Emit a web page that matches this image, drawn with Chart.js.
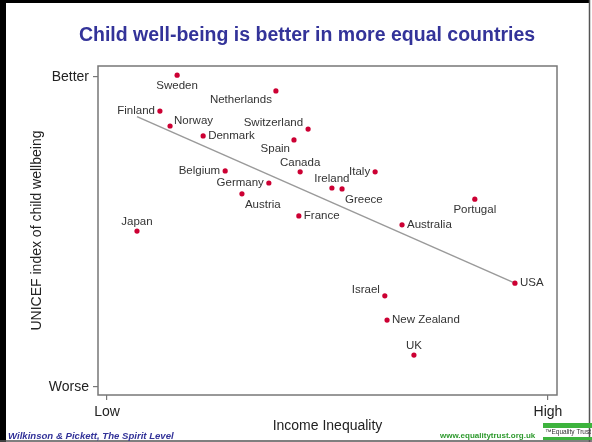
<!DOCTYPE html>
<html>
<head>
<meta charset="utf-8">
<script src="https://cdn.jsdelivr.net/npm/chart.js@4.4.1/dist/chart.umd.min.js"></script>
<style>
  html, body { margin: 0; padding: 0; background: #fff; }
  canvas { display: block; }
</style>
</head>
<body>
<canvas id="wellbeingChart" width="592" height="442"></canvas>
<script>
// values: 0 = Low / Worse, 100 = High / Better
const countries = ['Sweden', 'Netherlands', 'Finland', 'Norway', 'Denmark', 'Switzerland', 'Spain', 'Canada',
    'Belgium', 'Germany', 'Austria', 'Ireland', 'Greece', 'Italy', 'France', 'Portugal', 'Australia',
    'Japan', 'USA', 'Israel', 'New Zealand', 'UK'];
const inequality = [15.9, 38.3, 12.0, 14.3, 21.8, 45.6, 42.4, 43.8, 26.8, 36.7, 30.6, 51.0, 53.3, 60.8, 43.5,
    83.4, 66.9, 6.8, 92.5, 63.0, 63.5, 69.6];
const wellbeing = [100.6, 95.5, 89.0, 84.2, 81.0, 83.2, 79.7, 69.4, 69.7, 65.8, 62.3, 64.2, 63.9, 69.4, 55.2,
    60.6, 52.3, 50.3, 33.5, 29.4, 21.6, 10.3];
const trendX = [6.8, 92.5];
const trendY = [87.2, 33.5];
const xTickValues = [0, 100];
const xTickLabels = ['Low', 'High'];
const yTickValues = [0, 100];
const yTickLabels = ['Worse', 'Better'];

// where each country name sits next to its dot
const labelSide = ['below', 'below-left', 'left', 'above-right', 'right', 'above-left', 'below-left', 'above',
    'left', 'left', 'below-right', 'above', 'below-right', 'left', 'right', 'below', 'right',
    'above', 'right', 'above-left', 'right', 'above'];
const sideOffsets = {
    'right': [5, 0, 'left'],
    'left': [-5, 0, 'right'],
    'above': [0, -9, 'center'],
    'below': [0, 11, 'center'],
    'above-left': [-5, -6, 'right'],
    'below-left': [-4, 9, 'right'],
    'above-right': [4, -5, 'left'],
    'below-right': [3, 11, 'left']
};

const FONT = "'Liberation Sans', Arial, sans-serif";

const pointData = countries.map((c, i) => ({ x: inequality[i], y: wellbeing[i] }));
const trendData = trendX.map((x, i) => ({ x: x, y: trendY[i] }));

const decorations = {
    id: 'decorations',
    beforeDraw(chart) {
        const ctx = chart.ctx;
        ctx.save();
        ctx.fillStyle = '#fff';
        ctx.fillRect(0, 0, chart.width, chart.height);
        ctx.restore();
    },
    afterDatasetsDraw(chart) {
        const ctx = chart.ctx;
        const meta = chart.getDatasetMeta(0);
        ctx.save();
        ctx.font = '11.5px ' + FONT;
        ctx.fillStyle = '#333';
        ctx.textBaseline = 'middle';
        meta.data.forEach((pt, i) => {
            const off = sideOffsets[labelSide[i]];
            ctx.textAlign = off[2];
            ctx.fillText(countries[i], pt.x + off[0], pt.y + off[1]);
        });
        ctx.restore();
    },
    afterDraw(chart) {
        const ctx = chart.ctx;
        const a = chart.chartArea;
        ctx.save();
        // plot frame
        ctx.strokeStyle = '#777';
        ctx.lineWidth = 1.5;
        ctx.strokeRect(a.left, a.top, a.right - a.left, a.bottom - a.top);

        // slide border
        ctx.fillStyle = '#000';
        ctx.fillRect(0, 0, 6, chart.height);
        ctx.fillRect(0, 0, 590, 3);
        ctx.strokeStyle = '#555';
        ctx.lineWidth = 1.5;
        ctx.beginPath();
        ctx.moveTo(589.5, 0); ctx.lineTo(589.5, chart.height);
        ctx.moveTo(0, 441); ctx.lineTo(chart.width, 441);
        ctx.stroke();

        // heading
        ctx.fillStyle = '#333399';
        ctx.font = 'bold 19.5px ' + FONT;
        ctx.textAlign = 'center';
        ctx.textBaseline = 'middle';
        ctx.fillText('Child well-being is better in more equal countries', 307, 36);

        // source line
        ctx.font = 'italic bold 9.6px ' + FONT;
        ctx.textAlign = 'left';
        ctx.fillText('Wilkinson & Pickett, The Spirit Level', 8, 436);

        ctx.fillStyle = '#2e9a2e';
        ctx.font = 'bold 8px ' + FONT;
        ctx.fillText('www.equalitytrust.org.uk', 440, 436);

        // Equality Trust logo
        ctx.fillStyle = '#3db33d';
        ctx.fillRect(543, 423, 49, 5);
        ctx.fillRect(543, 437, 49, 3);
        ctx.fillStyle = '#333';
        ctx.font = '6.5px ' + FONT;
        ctx.fillText('\u2122Equality Trust', 545, 432.5);
        ctx.restore();
    }
};

let wellbeingChart = new Chart(document.getElementById('wellbeingChart').getContext('2d'), {
    type: 'scatter',
    data: {
        datasets: [
            {
                label: 'Countries',
                data: pointData,
                pointRadius: 2.6,
                pointBackgroundColor: '#cc0033',
                pointBorderWidth: 0
            },
            {
                type: 'line',
                label: 'Trend',
                data: trendData,
                borderColor: '#9a9a9a',
                borderWidth: 1.5,
                pointRadius: 0,
                fill: false
            }
        ]
    },
    options: {
        responsive: false,
        animation: false,
        devicePixelRatio: 1,
        layout: {
            padding: { top: 66, right: 35, bottom: 0, left: 0 }
        },
        plugins: {
            legend: { display: false },
            tooltip: { enabled: false }
        },
        scales: {
            x: {
                type: 'linear',
                min: -2.04,
                max: 102.04,
                afterFit: (scale) => { scale.height = 47; },
                afterBuildTicks: (scale) => { scale.ticks = xTickValues.map(v => ({ value: v })); },
                grid: { drawOnChartArea: false, tickLength: 5, color: '#777', lineWidth: 1.2 },
                border: { display: false },
                ticks: {
                    autoSkip: false,
                    maxRotation: 0,
                    padding: 4,
                    color: '#222',
                    font: { family: FONT, size: 14 },
                    callback: (value) => xTickLabels[xTickValues.indexOf(value)]
                },
                title: {
                    display: true,
                    text: 'Income Inequality',
                    color: '#222',
                    font: { family: FONT, size: 14 },
                    padding: { top: 0, bottom: 7.6 }
                }
            },
            y: {
                type: 'linear',
                min: -2.58,
                max: 103.55,
                afterFit: (scale) => { scale.width = 98; },
                afterBuildTicks: (scale) => { scale.ticks = yTickValues.map(v => ({ value: v })); },
                grid: { drawOnChartArea: false, tickLength: 5, color: '#777', lineWidth: 1.2 },
                border: { display: false },
                ticks: {
                    autoSkip: false,
                    padding: 4,
                    color: '#222',
                    font: { family: FONT, size: 14 },
                    callback: (value) => yTickLabels[yTickValues.indexOf(value)]
                },
                title: {
                    display: true,
                    text: 'UNICEF index of child wellbeing',
                    color: '#222',
                    font: { family: FONT, size: 14 },
                    padding: { top: 28.6, bottom: 0 }
                }
            }
        }
    },
    plugins: [decorations]
});
</script>
</body>
</html>
